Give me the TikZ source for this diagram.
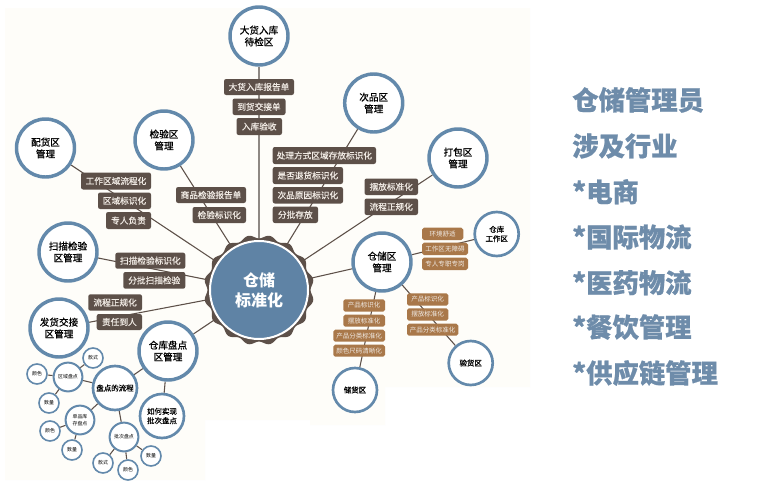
\documentclass[tikz,border=0pt]{standalone}
\usepackage{fontspec}
\setmainfont{Noto Sans CJK SC}
\newfontfamily\ringfont[FakeBold=0.9]{Noto Sans CJK SC}
\newfontfamily\boxfont[FakeBold=0.5]{Noto Sans CJK SC}
\newfontfamily\sidefont[BoldFeatures={FakeBold=0.7}]{Noto Sans CJK SC}
\usetikzlibrary{backgrounds}
\definecolor{ringblue}{HTML}{6389AB}
\definecolor{hubblue}{HTML}{5F83A5}
\definecolor{darkbrown}{HTML}{5D5049}
\definecolor{tanbox}{HTML}{A9784A}
\definecolor{creamy}{HTML}{FEFDF9}
\definecolor{sidetext}{HTML}{6E8CAA}
\definecolor{greyline}{HTML}{8E8883}
\definecolor{boxtext}{HTML}{F0EAE4}
\tikzset{
  x=.75pt,y=-.75pt,
  ring/.style={circle,draw=ringblue,fill=white,inner sep=0pt,align=center,text=black},
  bigring/.style={ring,minimum size=43.5pt,line width=2.6pt,font=\ringfont\fontsize{7.2}{8.8}\selectfont},
  midring/.style={ring,minimum size=33pt,line width=2pt,font=\ringfont\fontsize{5.6}{7}\selectfont},
  smallring/.style={ring,minimum size=21.6pt,line width=1.5pt,font=\fontsize{3.7}{4.8}\selectfont},
  tinyring/.style={ring,minimum size=15pt,line width=1.2pt,font=\fontsize{3.7}{4.8}\selectfont},
  darkbox/.style={rectangle,rounded corners=1.6pt,fill=darkbrown,text=boxtext,inner sep=0pt,font=\boxfont\fontsize{6.5}{8}\selectfont},
  tbox/.style={rectangle,rounded corners=1.4pt,fill=tanbox,text=boxtext,inner sep=0pt,font=\fontsize{4.9}{6}\selectfont},
  link/.style={draw=darkbrown,line width=.8pt},
  toplink/.style={draw=greyline,line width=1.5pt},
  sideline/.style={anchor=west,text=sidetext,inner sep=0pt,font=\sidefont\fontsize{19.75}{22}\selectfont\bfseries},
}
\newcommand{\bx}[7]{%
  \pgfmathsetmacro{\bxw}{(#4-#3)*.75}\pgfmathsetmacro{\bxh}{(#6-#5)*.75}%
  \node[#1,minimum width=\bxw pt,minimum height=\bxh pt] (#2) at ({(#3+#4)/2},{(#5+#6)/2}) {#7};}
\begin{document}
\begin{tikzpicture}
\useasboundingbox (0,0) rectangle (780,489);
% hub
\fill[darkbrown] plot[domain=0:360,samples=321] ({259+(53.4-1.8*cos(16*\x))*cos(\x)},{290-(53.4-1.8*cos(16*\x))*sin(\x)}) -- cycle;
\node[circle,fill=hubblue,draw=white,line width=1.5pt,minimum size=73.5pt,inner sep=0pt,align=center,text=white,font=\fontsize{12}{15}\selectfont\bfseries] (hub) at (259,290) {仓储\\标准化};
% main rings
\node[bigring] (dahuo) at (259,36) {大货入库\\待检区};
\node[bigring] (jianyan) at (164,140) {检验区\\管理};
\node[bigring] (peihuo) at (45.5,148) {配货区\\管理};
\node[bigring] (cipin) at (373.7,103) {次品区\\管理};
\node[bigring] (dabao) at (458,158) {打包区\\管理};
\node[bigring] (cangchu) at (382,262) {仓储区\\管理};
\node[bigring] (saomiao) at (68,252) {扫描检验\\区管理};
\node[bigring] (fahuo) at (59,328) {发货交接\\区管理};
\node[bigring] (pandian) at (168,351) {仓库盘点\\区管理};
% medium rings
\node[midring] (gongzuo) at (496.7,234) {仓库\\工作区};
\node[midring] (chuhuo) at (355,390) {储货区};
\node[midring] (yanhuo) at (470.7,363) {验货区};
\node[midring] (ruhe) at (162,416) {如何实现\\批次盘点};
\node[midring] (liucheng) at (115,388) {盘点的流程};
% small rings
\node[smallring] (quyu) at (68,377) {区域盘点};
\node[smallring] (danpin) at (80,420) {单品库\\存盘点};
\node[smallring] (pici) at (124,437) {批次盘点};
\node[tinyring] (a1) at (93,358) {款式};
\node[tinyring] (a2) at (37,374) {颜色};
\node[tinyring] (a3) at (49,403) {数量};
\node[tinyring] (b1) at (50,431) {颜色};
\node[tinyring] (b2) at (72,450) {数量};
\node[tinyring] (c1) at (103,463) {款式};
\node[tinyring] (c2) at (128,470) {颜色};
\node[tinyring] (c3) at (151,456) {数量};
% dark boxes
\bx{darkbox}{d1}{224}{294}{79}{95}{大货入库报告单}
\bx{darkbox}{d2}{232.5}{285.5}{98.5}{115}{到货交接单}
\bx{darkbox}{d3}{236.5}{282}{118}{135}{入库验收}
\bx{darkbox}{d4}{81}{151}{172.5}{189.5}{工作区域流程化}
\bx{darkbox}{d5}{98}{151}{192.5}{209}{区域标识化}
\bx{darkbox}{d6}{106}{151}{212}{229}{专人负责}
\bx{darkbox}{d7}{176}{246}{187}{203}{商品检验报告单}
\bx{darkbox}{d8}{192.5}{246}{207}{223}{检验标识化}
\bx{darkbox}{d9}{272.7}{376}{147}{164}{处理方式区域存放标识化}
\bx{darkbox}{d10}{272.7}{343}{167}{184}{是否退货标识化}
\bx{darkbox}{d11}{272.7}{343}{187}{203.5}{次品原因标识化}
\bx{darkbox}{d12}{272.7}{318}{206.5}{223}{分批存放}
\bx{darkbox}{d13}{364.5}{418}{178.5}{195}{摆放标准化}
\bx{darkbox}{d14}{364.5}{418}{198.5}{215}{流程正规化}
\bx{darkbox}{d15}{115.3}{185.3}{252.7}{268.7}{扫描检验标识化}
\bx{darkbox}{d16}{123.3}{185.3}{272}{288.7}{分批扫描检验}
\bx{darkbox}{d17}{88.3}{142}{294.3}{310.7}{流程正规化}
\bx{darkbox}{d18}{96.7}{142}{314}{330}{责任到人}
% tan boxes
\bx{tbox}{t1}{422}{463.3}{227.7}{240}{环境舒适}
\bx{tbox}{t2}{422}{468}{242.7}{255}{工作区无障碍}
\bx{tbox}{t3}{422}{468}{257.7}{270}{专人专职专岗}
\bx{tbox}{t4}{343.3}{385}{299.3}{311.7}{产品标识化}
\bx{tbox}{t5}{343.3}{385}{314.7}{326.7}{摆放标准化}
\bx{tbox}{t6}{333.3}{385}{329.7}{341.7}{产品分类标准化}
\bx{tbox}{t7}{333.3}{385}{344.7}{356.7}{颜色尺码清晰化}
\bx{tbox}{t8}{407}{448.3}{293.3}{305.7}{产品标识化}
\bx{tbox}{t9}{407}{448.3}{308.3}{320.7}{摆放标准化}
\bx{tbox}{t10}{407}{458.3}{323.7}{335.7}{产品分类标准化}
% side text
\node[sideline] (s1) at (572,100) {仓储管理员};
\node[sideline] (s2) at (572,146) {涉及行业};
\node[sideline] (s3) at (572,191.7) {*电商};
\node[sideline] (s4) at (572,237) {*国际物流};
\node[sideline] (s5) at (572,282.7) {*医药物流};
\node[sideline] (s6) at (572,327) {*餐饮管理};
\node[sideline] (s7) at (572,373) {*供应链管理};
\begin{scope}[on background layer]
\fill[white] (0,0) rectangle (780,489);
\fill[creamy] (5,8) -- (530,8) -- (530,387) -- (385,387) -- (385,425) -- (310,425) -- (310,420) -- (205,420) -- (205,480) -- (5,480) -- cycle;
\draw[toplink] (hub) -- (dahuo);
\foreach \t in {jianyan,peihuo,cipin,dabao,cangchu,saomiao,fahuo,pandian}{\draw[link] (hub) -- (\t);}
\foreach \t in {gongzuo,chuhuo,yanhuo}{\draw[link] (cangchu) -- (\t);}
\foreach \t in {ruhe,liucheng}{\draw[link] (pandian) -- (\t);}
\foreach \t in {quyu,danpin,pici}{\draw[link] (liucheng) -- (\t);}
\foreach \t in {a1,a2,a3}{\draw[link] (quyu) -- (\t);}
\foreach \t in {b1,b2}{\draw[link] (danpin) -- (\t);}
\foreach \t in {c1,c2,c3}{\draw[link] (pici) -- (\t);}
\end{scope}
\end{tikzpicture}
\end{document}
